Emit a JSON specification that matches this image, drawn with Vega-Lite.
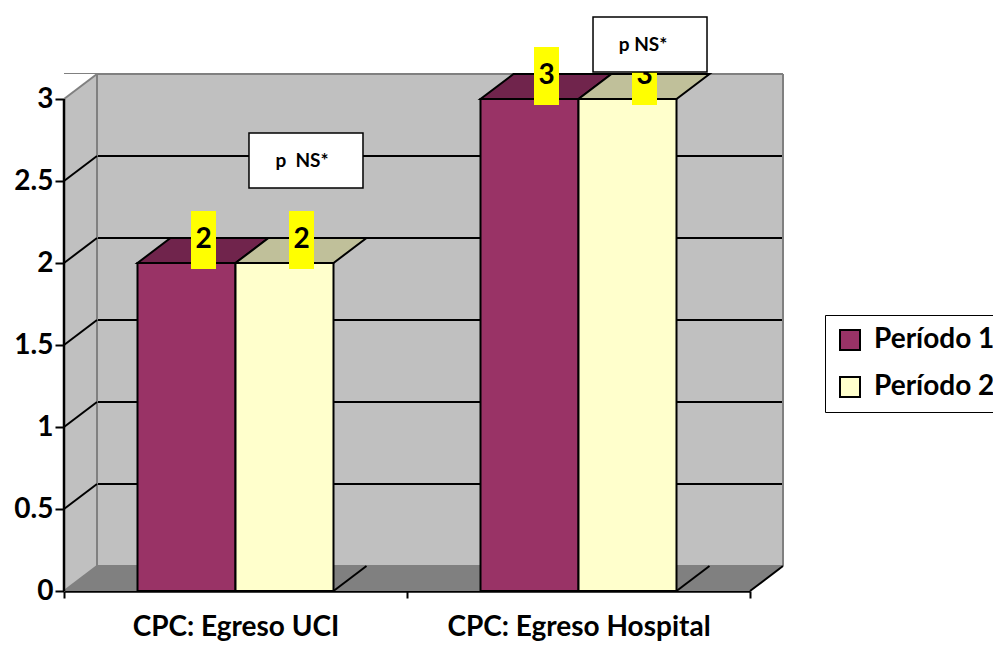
{
  "$schema": "https://vega.github.io/schema/vega-lite/v6.json",
  "width": 686,
  "height": 492,
  "autosize": {"type": "none"},
  "padding": {"left": 64, "top": 99, "right": 243, "bottom": 54},
  "background": "white",
  "config": {
    "view": {"stroke": null},
    "font": "Lato",
    "axisX": {
      "tickBand": "extent", "labelAngle": 0, "labelLimit": 0, "labelFont": "Lato", "labelFontSize": 28, "labelFontWeight": "bold",
      "labelColor": "black", "labelPadding": 15, "tickSize": 7, "tickColor": "black", "tickWidth": 2,
      "domain": true, "domainColor": "black", "domainWidth": 2.5, "grid": false, "zindex": 2
    },
    "axisY": {
      "labelFont": "Lato", "labelFontSize": 28, "labelFontWeight": "bold", "labelColor": "black",
      "labelPadding": 2, "tickSize": 9, "tickColor": "black", "tickWidth": 2,
      "domain": true, "domainColor": "black", "domainWidth": 2, "grid": false, "zindex": 2
    }
  },
  "datasets": {
    "barras": [
      {"categoria": "CPC: Egreso UCI", "periodo": "Período 1", "valor": 2},
      {"categoria": "CPC: Egreso UCI", "periodo": "Período 2", "valor": 2},
      {"categoria": "CPC: Egreso Hospital", "periodo": "Período 1", "valor": 3},
      {"categoria": "CPC: Egreso Hospital", "periodo": "Período 2", "valor": 3}
    ],
    "rejilla": [{"nivel": 0.5}, {"nivel": 1}, {"nivel": 1.5}, {"nivel": 2}, {"nivel": 2.5}],
    "bordes": [{"nivel": 0}, {"nivel": 3}]
  },
  "data": {"name": "barras"},
  "layer": [
    {
      "data": {"values": [{}]},
      "mark": {"type": "rect", "fill": "#c0c0c0", "xOffset": 33, "x2Offset": 33, "yOffset": -25, "y2Offset": -25},
      "encoding": {"y": {"datum": 3, "type": "quantitative"}, "y2": {"datum": 0}}
    },
    {
      "data": {"name": "rejilla"},
      "mark": {"type": "rule", "color": "black", "strokeWidth": 2, "xOffset": 33, "x2Offset": 33, "yOffset": -25},
      "encoding": {"y": {"field": "nivel", "type": "quantitative"}}
    },
    {
      "data": {"name": "bordes"},
      "mark": {"type": "rule", "color": "#808080", "strokeWidth": 2, "xOffset": 33, "x2Offset": 33, "yOffset": -25},
      "encoding": {"y": {"field": "nivel", "type": "quantitative"}}
    },
    {
      "data": {"values": [{}]},
      "mark": {"type": "rule", "color": "#808080", "strokeWidth": 2, "xOffset": 33, "yOffset": -25, "y2Offset": -25},
      "encoding": {
        "x": {"datum": "CPC: Egreso Hospital", "type": "nominal", "bandPosition": 1},
        "y": {"datum": 3, "type": "quantitative"}, "y2": {"datum": 0}
      }
    },
    {
      "data": {"values": [{}]},
      "mark": {"type": "rect", "fill": "#808080", "xOffset": 33, "x2Offset": 33, "yOffset": -25},
      "encoding": {"y": {"datum": 0, "type": "quantitative"}, "y2": {"datum": 0}}
    },
    {
      "data": {"values": [{}]},
      "mark": {"type": "rule", "color": "#c0c0c0", "strokeWidth": 33, "xOffset": 16.5, "yOffset": -25},
      "encoding": {
        "x": {"datum": "CPC: Egreso UCI", "type": "nominal", "bandPosition": 0},
        "y": {"datum": 3, "type": "quantitative"}, "y2": {"datum": 0}
      }
    },
    {
      "data": {"values": [{}]},
      "mark": {"type": "rule", "color": "#808080", "strokeWidth": 2, "xOffset": 33, "yOffset": -25, "y2Offset": -25},
      "encoding": {
        "x": {"datum": "CPC: Egreso UCI", "type": "nominal", "bandPosition": 0},
        "y": {"datum": 3, "type": "quantitative"}, "y2": {"datum": 0}
      }
    },
    {
      "data": {"values": [{}]},
      "mark": {"type": "point", "shape": "M0,0 L33,0 L33,-25 Z", "size": 4, "filled": true, "fill": "#808080", "strokeWidth": 0, "opacity": 1},
      "encoding": {
        "x": {"datum": "CPC: Egreso UCI", "type": "nominal", "bandPosition": 0},
        "y": {"datum": 0, "type": "quantitative"}
      }
    },
    {
      "data": {"values": [{}]},
      "mark": {"type": "point", "shape": "M0,0 L0,-25 L33,-25 Z", "size": 4, "filled": true, "fill": "white", "strokeWidth": 0, "opacity": 1},
      "encoding": {
        "x": {"datum": "CPC: Egreso UCI", "type": "nominal", "bandPosition": 0},
        "y": {"datum": 3, "type": "quantitative"}
      }
    },
    {
      "data": {"values": [{}]},
      "mark": {"type": "point", "shape": "M0,0 L33,0 L33,-25 Z", "size": 4, "filled": true, "fill": "white", "strokeWidth": 0, "opacity": 1},
      "encoding": {
        "x": {"datum": "CPC: Egreso Hospital", "type": "nominal", "bandPosition": 1},
        "y": {"datum": 0, "type": "quantitative"}
      }
    },
    {
      "data": {"values": [{}]},
      "mark": {"type": "point", "shape": "M0,0 L33,-25", "size": 4, "filled": false, "stroke": "black", "strokeWidth": 2, "opacity": 1},
      "encoding": {
        "x": {"datum": "CPC: Egreso Hospital", "type": "nominal", "bandPosition": 1},
        "y": {"datum": 0, "type": "quantitative"}
      }
    },
    {
      "data": {"name": "rejilla"},
      "mark": {"type": "point", "shape": "M0,0 L33,-25", "size": 4, "filled": false, "stroke": "black", "strokeWidth": 2, "opacity": 1},
      "encoding": {
        "x": {"datum": "CPC: Egreso UCI", "type": "nominal", "bandPosition": 0},
        "y": {"field": "nivel", "type": "quantitative"}
      }
    },
    {
      "data": {"name": "bordes"},
      "mark": {"type": "point", "shape": "M0,0 L33,-25", "size": 4, "filled": false, "stroke": "#808080", "strokeWidth": 2, "opacity": 1},
      "encoding": {
        "x": {"datum": "CPC: Egreso UCI", "type": "nominal", "bandPosition": 0},
        "y": {"field": "nivel", "type": "quantitative"}
      }
    },
    {
      "data": {"values": [{}]},
      "mark": {"type": "rule", "color": "black", "strokeWidth": 2.5},
      "encoding": {
        "x": {"datum": "CPC: Egreso UCI", "type": "nominal", "bandPosition": 0},
        "y": {"datum": 3, "type": "quantitative"}, "y2": {"datum": 0}
      }
    },
    {
      "transform": [{"filter": "datum.periodo === 'Período 2'"}],
      "mark": {"type": "rule", "color": "#808066", "strokeWidth": 33, "xOffset": 65.5, "yOffset": -25},
      "encoding": {
        "x": {"field": "categoria", "type": "nominal"},
        "xOffset": {"field": "periodo", "type": "nominal"},
        "y": {"field": "valor", "type": "quantitative"},
        "y2": {"datum": 0}
      }
    },
    {
      "transform": [{"filter": "datum.periodo === 'Período 2'"}],
      "mark": {"type": "point", "shape": "M49,0 L82,0 L82,-25 Z", "size": 4, "filled": true, "fill": "#808080", "strokeWidth": 0, "opacity": 1},
      "encoding": {
        "x": {"field": "categoria", "type": "nominal"},
        "xOffset": {"field": "periodo", "type": "nominal"},
        "y": {"datum": 0, "type": "quantitative"}
      }
    },
    {
      "transform": [{"filter": "datum.periodo === 'Período 2'"}],
      "mark": {"type": "point", "shape": "M49,0 L82,-25", "size": 4, "filled": false, "stroke": "black", "strokeWidth": 2, "opacity": 1},
      "encoding": {
        "x": {"field": "categoria", "type": "nominal"},
        "xOffset": {"field": "periodo", "type": "nominal"},
        "y": {"datum": 0, "type": "quantitative"}
      }
    },
    {
      "transform": [{"filter": "datum.periodo === 'Período 2'"}],
      "mark": {"type": "rule", "color": "black", "strokeWidth": 2, "xOffset": 82, "yOffset": -25, "y2Offset": -25},
      "encoding": {
        "x": {"field": "categoria", "type": "nominal"},
        "xOffset": {"field": "periodo", "type": "nominal"},
        "y": {"field": "valor", "type": "quantitative"},
        "y2": {"datum": 0}
      }
    },
    {
      "mark": {"type": "bar", "stroke": "black", "strokeWidth": 2},
      "encoding": {
        "x": {
          "field": "categoria", "type": "nominal", "title": null, "sort": null,
          "scale": {"type": "band", "domain": ["CPC: Egreso UCI", "CPC: Egreso Hospital"], "paddingInner": 0, "paddingOuter": 0}
        },
        "xOffset": {
          "field": "periodo", "type": "nominal",
          "scale": {"domain": ["Período 1", "Período 2"], "paddingInner": 0, "paddingOuter": 0.75}
        },
        "y": {
          "field": "valor", "type": "quantitative", "title": null,
          "scale": {"domain": [0, 3], "nice": false, "zero": true},
          "axis": {"values": [0, 0.5, 1, 1.5, 2, 2.5, 3], "format": "~g"}
        },
        "fill": {
          "field": "periodo", "type": "nominal",
          "scale": {"domain": ["Período 1", "Período 2"], "range": ["#993366", "#ffffcc"]},
          "legend": {
            "title": null, "orient": "none", "legendX": 761, "legendY": 216,
            "symbolType": "square", "symbolSize": 400, "symbolStrokeColor": "black", "symbolStrokeWidth": 2,
            "labelFont": "Lato", "labelFontSize": 28, "labelFontWeight": "bold", "labelColor": "black",
            "labelOffset": 10, "rowPadding": 19, "padding": 11,
            "strokeColor": "black", "fillColor": "white"
          }
        }
      }
    },
    {
      "mark": {"type": "point", "shape": "M-49,0 L49,0 L82,-25 L-16,-25 Z", "size": 4, "filled": true, "stroke": "black", "strokeWidth": 2, "opacity": 1},
      "encoding": {
        "x": {"field": "categoria", "type": "nominal"},
        "xOffset": {"field": "periodo", "type": "nominal"},
        "y": {"field": "valor", "type": "quantitative"},
        "color": {
          "field": "periodo", "type": "nominal",
          "scale": {"domain": ["Período 1", "Período 2"], "range": ["#70244c", "#c0c09a"]},
          "legend": null
        }
      }
    },
    {
      "mark": {"type": "point", "shape": "M4.5,-52 H29.5 V6 H4.5 Z", "size": 4, "filled": true, "fill": "#ffff00", "strokeWidth": 0, "opacity": 1},
      "encoding": {
        "x": {"field": "categoria", "type": "nominal"},
        "xOffset": {"field": "periodo", "type": "nominal"},
        "y": {"field": "valor", "type": "quantitative"}
      }
    },
    {
      "mark": {"type": "text", "dx": 17, "dy": -23, "baseline": "middle", "align": "center", "font": "Lato", "fontSize": 28, "fontWeight": "bold", "color": "black"},
      "encoding": {
        "x": {"field": "categoria", "type": "nominal"},
        "xOffset": {"field": "periodo", "type": "nominal"},
        "y": {"field": "valor", "type": "quantitative"},
        "text": {"field": "valor", "type": "quantitative"}
      }
    },
    {
      "data": {"values": [{}]},
      "layer": [
        {
          "mark": {"type": "point", "shape": "M-57,-27.5 H57 V27.5 H-57 Z", "size": 4, "filled": true, "fill": "white", "stroke": "black", "strokeWidth": 1.5, "opacity": 1},
          "encoding": {
            "x": {"datum": "CPC: Egreso UCI", "type": "nominal", "bandPosition": 0.7055},
            "y": {"datum": 2.625, "type": "quantitative"}
          }
        },
        {
          "mark": {"type": "text", "text": "p\u00a0 NS*", "dx": -4, "baseline": "middle", "align": "center", "font": "Lato", "fontSize": 19, "fontWeight": "bold", "color": "black"},
          "encoding": {
            "x": {"datum": "CPC: Egreso UCI", "type": "nominal", "bandPosition": 0.7055},
            "y": {"datum": 2.625, "type": "quantitative"}
          }
        },
        {
          "mark": {"type": "point", "shape": "M-57,-27.5 H57 V27.5 H-57 Z", "size": 4, "filled": true, "fill": "white", "stroke": "black", "strokeWidth": 1.5, "opacity": 1},
          "encoding": {
            "x": {"datum": "CPC: Egreso Hospital", "type": "nominal", "bandPosition": 0.7085},
            "y": {"datum": 3.332, "type": "quantitative"}
          }
        },
        {
          "mark": {"type": "text", "text": "p NS*", "dx": -7, "baseline": "middle", "align": "center", "font": "Lato", "fontSize": 19, "fontWeight": "bold", "color": "black"},
          "encoding": {
            "x": {"datum": "CPC: Egreso Hospital", "type": "nominal", "bandPosition": 0.7085},
            "y": {"datum": 3.332, "type": "quantitative"}
          }
        }
      ]
    }
  ]
}
